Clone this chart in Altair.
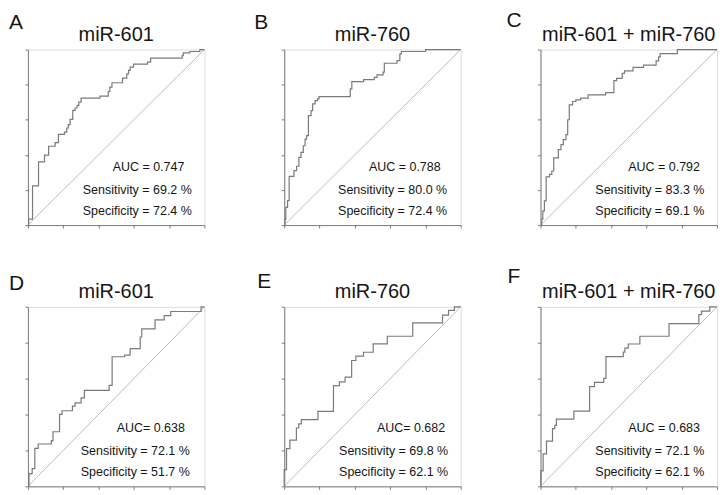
import altair as alt
import pandas as pd

# ---------------- data ----------------
A_fpr = [0, 0.004, 0.026, 0.060, 0.094, 0.117, 0.154, 0.173, 0.207, 0.220, 0.229, 0.239, 0.254, 0.267,
         0.278, 0.288, 0.301, 0.408, 0.455, 0.464, 0.476, 0.536, 0.560, 0.570, 0.579, 0.598, 0.677,
         0.695, 0.874, 0.880, 0.917, 0.974, 1.0]
A_tpr = [0, 0.034, 0.223, 0.360, 0.398, 0.449, 0.470, 0.517, 0.530, 0.553, 0.572, 0.602, 0.653, 0.667,
         0.682, 0.701, 0.723, 0.735, 0.761, 0.786, 0.811, 0.837, 0.862, 0.881, 0.900, 0.917, 0.928,
         0.951, 0.966, 0.981, 0.989, 1.0, 1.0]

B_fpr = [0, 0.004, 0.009, 0.019, 0.028, 0.055, 0.070, 0.083, 0.095, 0.108, 0.118, 0.127, 0.137, 0.152,
         0.161, 0.175, 0.188, 0.197, 0.374, 0.383, 0.450, 0.510, 0.526, 0.560, 0.567, 0.639, 0.655,
         0.664, 0.801, 1.0]
B_tpr = [0, 0.034, 0.101, 0.139, 0.278, 0.310, 0.335, 0.386, 0.414, 0.452, 0.490, 0.510, 0.624, 0.652,
         0.690, 0.709, 0.719, 0.732, 0.776, 0.817, 0.829, 0.842, 0.856, 0.871, 0.922, 0.937, 0.975,
         0.989, 1.0, 1.0]

C_fpr = [0, 0.007, 0.013, 0.022, 0.032, 0.051, 0.064, 0.075, 0.101, 0.116, 0.129, 0.144, 0.154, 0.163,
         0.182, 0.200, 0.228, 0.270, 0.369, 0.416, 0.431, 0.463, 0.476, 0.524, 0.584, 0.655, 0.669,
         0.678, 0.775, 1.0]
C_tpr = [0, 0.034, 0.081, 0.138, 0.275, 0.289, 0.308, 0.383, 0.430, 0.458, 0.487, 0.515, 0.600, 0.685,
         0.704, 0.713, 0.723, 0.742, 0.755, 0.823, 0.836, 0.864, 0.879, 0.898, 0.911, 0.936, 0.958,
         0.977, 1.0, 1.0]

D_fpr = [0, 0.006, 0.024, 0.039, 0.058, 0.133, 0.142, 0.179, 0.193, 0.252, 0.267, 0.301, 0.320, 0.460,
         0.477, 0.548, 0.579, 0.636, 0.645, 0.720, 0.772, 0.809, 0.981, 1.0]
D_tpr = [0, 0.071, 0.099, 0.212, 0.236, 0.255, 0.304, 0.401, 0.421, 0.447, 0.465, 0.493, 0.535, 0.562,
         0.722, 0.731, 0.767, 0.832, 0.877, 0.927, 0.951, 0.974, 1.0, 1.0]

E_fpr = [0, 0.0, 0.013, 0.032, 0.069, 0.082, 0.097, 0.191, 0.279, 0.313, 0.345, 0.382, 0.406, 0.449,
         0.504, 0.584, 0.728, 0.897, 0.931, 0.964, 1.0]
E_tpr = [0, 0.093, 0.210, 0.257, 0.325, 0.348, 0.372, 0.418, 0.561, 0.582, 0.608, 0.701, 0.725, 0.747,
         0.794, 0.836, 0.911, 0.954, 0.980, 1.0, 1.0]

F_fpr = [0, 0.002, 0.015, 0.034, 0.068, 0.081, 0.090, 0.189, 0.278, 0.306, 0.358, 0.371, 0.469, 0.478,
         0.497, 0.563, 0.728, 0.897, 0.912, 0.959, 1.0]
F_tpr = [0, 0.086, 0.181, 0.252, 0.321, 0.340, 0.374, 0.419, 0.555, 0.579, 0.602, 0.723, 0.748, 0.770,
         0.793, 0.836, 0.907, 0.957, 0.976, 1.0, 1.0]

letters = ["A", "B", "C", "D", "E", "F"]
titles = ["miR-601", "miR-760", "miR-601 + miR-760", "miR-601", "miR-760", "miR-601 + miR-760"]
auc_labels = ["AUC  = 0.747", "AUC = 0.788", "AUC = 0.792", "AUC= 0.638", "AUC= 0.682", "AUC = 0.683"]
sens_labels = ["Sensitivity = 69.2 %", "Sensitivity = 80.0 %", "Sensitivity = 83.3 %",
               "Sensitivity = 72.1 %", "Sensitivity = 69.8 %", "Sensitivity = 72.1 %"]
spec_labels = ["Specificity = 72.4 %", "Specificity = 72.4 %", "Specificity = 69.1 %",
               "Specificity = 51.7 %", "Specificity = 62.1 %", "Specificity = 62.1 %"]
tick_values = [0, 0.2, 0.4, 0.6, 0.8, 1.0]
chance_x = [0, 1]
chance_y = [0, 1]

series = [(A_fpr, A_tpr), (B_fpr, B_tpr), (C_fpr, C_tpr), (D_fpr, D_tpr), (E_fpr, E_tpr), (F_fpr, F_tpr)]

# ---------------- styling ----------------
W = 177
H_ROW = [176, 180]
SANS = "Liberation Sans, Arial, Helvetica, sans-serif"
TXT = "#151515"
# letter offsets (dx, baseline dy) relative to the plot's top-left corner
letter_pos = [(-19, -21), (-30, -21), (-34, -23), (-19, -17), (-27, -19), (-33, -24)]
auc_x = [85, 85, 88, 89, 93, 88]
ss_x = [55, 54, 55, 53, 55, 55]


def one_text(txt):
    return pd.DataFrame({"t": [txt]})


def panel(i):
    fpr, tpr = series[i]
    h = H_ROW[i // 3]
    df = pd.DataFrame({"fpr": fpr, "tpr": tpr, "k": list(range(len(fpr)))})
    ax = alt.Axis(values=tick_values, labels=False, ticks=True, tickSize=3, grid=False,
                  domain=True, domainColor="#7d7d7d", tickColor="#7d7d7d", title=None)
    xs = alt.Scale(domain=[0, 1], nice=False)
    ys = alt.Scale(domain=[0, 1], nice=False)

    diag = alt.Chart(pd.DataFrame({"fpr": chance_x, "tpr": chance_y})).mark_line(
        color="#b4b4b4", strokeWidth=0.9
    ).encode(x=alt.X("fpr:Q", scale=xs, axis=ax), y=alt.Y("tpr:Q", scale=ys, axis=ax))

    curve = alt.Chart(df).mark_line(
        interpolate="step-after", color="#7a7a7a", strokeWidth=1.2
    ).encode(x=alt.X("fpr:Q", scale=xs, axis=ax), y=alt.Y("tpr:Q", scale=ys, axis=ax),
             order="k:Q")

    def txt(s, x, y, size, align="left", font=SANS):
        return alt.Chart(one_text(s)).mark_text(
            align=align, baseline="alphabetic", fontSize=size, font=font, color=TXT
        ).encode(text="t:N", x=alt.value(x), y=alt.value(y))

    lx, ly = letter_pos[i]
    layers = [
        diag,
        curve,
        txt(auc_labels[i], auc_x[i], h - 54, 12.5),
        txt(sens_labels[i], ss_x[i], h - 31.5, 12.5),
        txt(spec_labels[i], ss_x[i], h - 10, 12.5),
        txt(titles[i], W / 2, -9, 20, align="center"),
        txt(letters[i], lx, ly, 21),
    ]
    return alt.layer(*layers).properties(width=W, height=h)


chart = alt.concat(
    *[panel(i) for i in range(6)], columns=3,
    spacing={"row": 82, "column": 80}, bounds="flush"
).properties(
    padding=0
).configure_view(
    stroke="#b8b8b8", strokeWidth=1
).configure(background="white")

chart.save("out.html", embed_options={"renderer": "svg", "actions": False})
